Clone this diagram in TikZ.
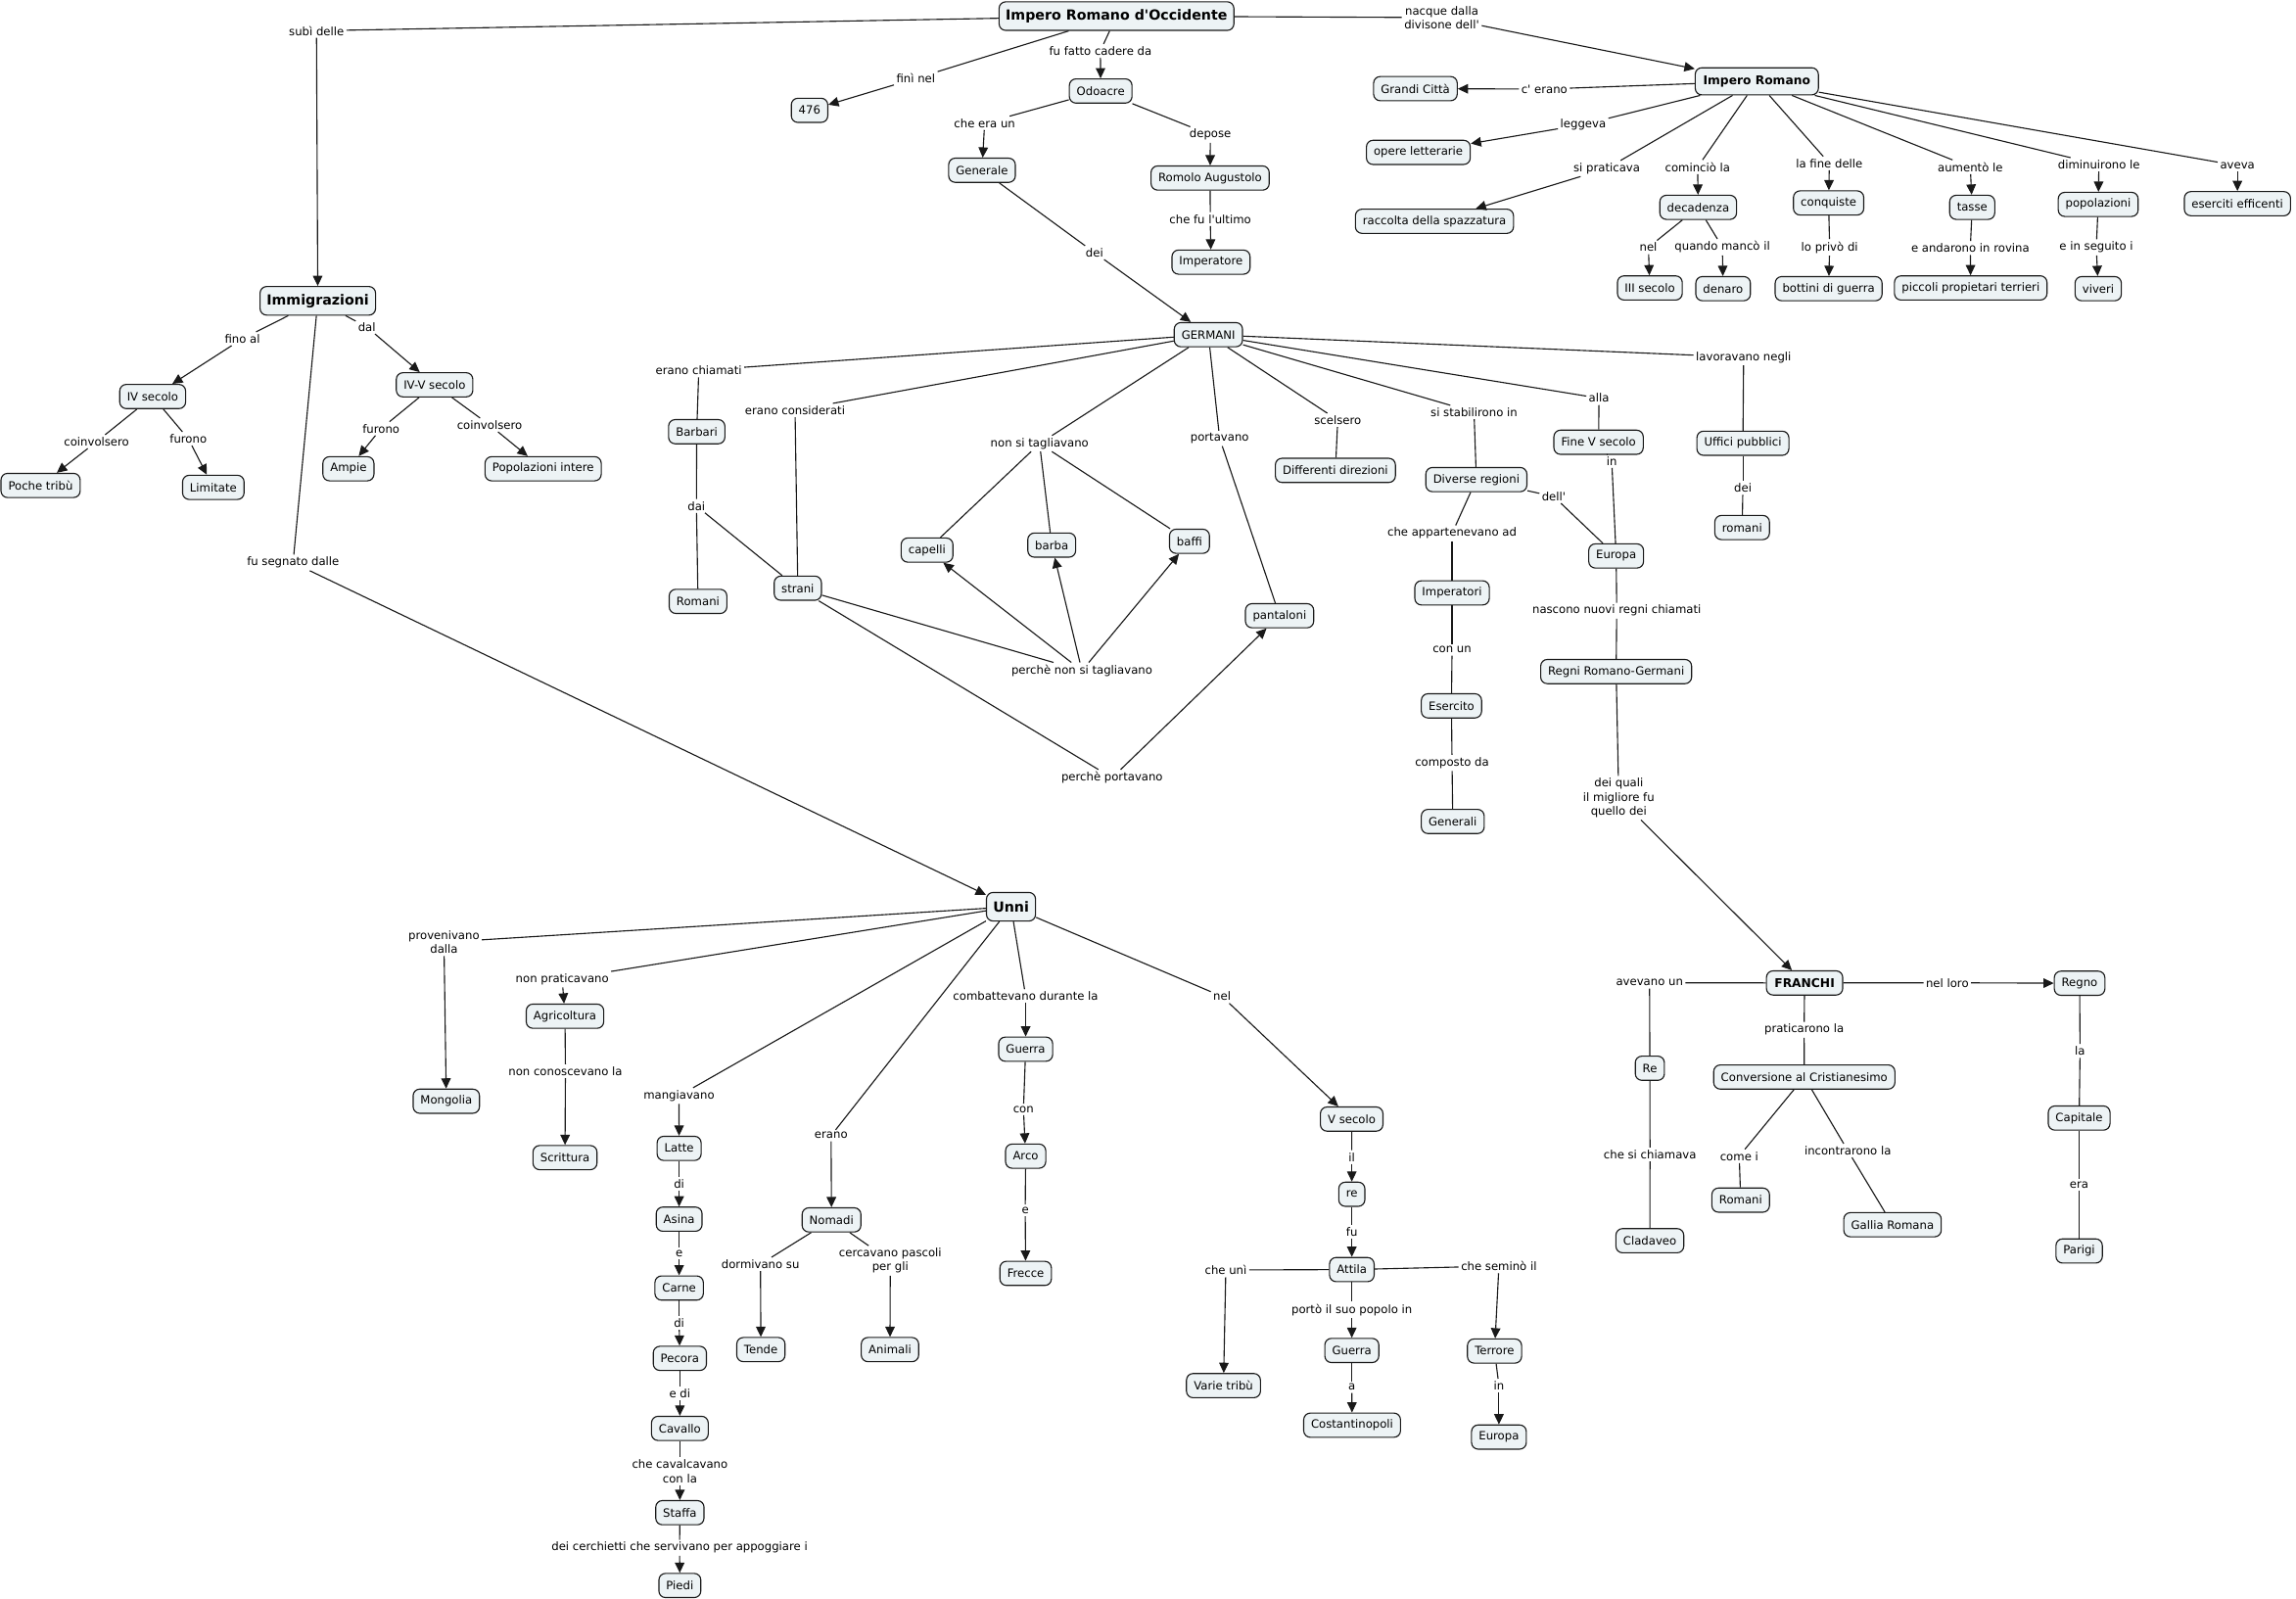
\documentclass[tikz,border=0pt]{standalone}
\usepackage{fontspec}
\setmainfont{DejaVu Sans}
\usetikzlibrary{arrows.meta}
\definecolor{cfill}{RGB}{237,243,245}
\definecolor{cline}{RGB}{25,25,25}
\newcommand\cfont{\fontsize{7.8}{9.6}\selectfont}
\newcommand\bigfont{\fontsize{9.5}{11}\selectfont\bfseries}
\newcommand\midfont{\fontsize{8.2}{10}\selectfont\bfseries}
\newcommand\apo{\textquotesingle}
\newcommand\cmlink[3]{\draw[link] (#1) -- (#2); \draw[arr] (#2) -- (#3);}
\newcommand\cmplain[3]{\draw[link] (#1) -- (#2); \draw[link] (#2) -- (#3);}
\tikzset{
  concept/.style={draw=cline, fill=cfill, rounded corners=4.5pt, line width=0.75pt,
    inner xsep=5pt, inner ysep=2pt, minimum height=16.5pt, font=\cfont, text=black},
  bigc/.style={concept, font=\bigfont, minimum height=19.5pt, inner xsep=4.5pt},
  midc/.style={concept, font=\midfont, inner xsep=5.5pt},
  lp/.style={inner sep=1.5pt, font=\cfont, align=center, text=black},
  link/.style={draw=cline, line width=0.75pt},
  arr/.style={link, -{Triangle[length=7pt,width=6.5pt]}},
}
\begin{document}
\begin{tikzpicture}[x=1pt,y=-1pt]
\useasboundingbox (0,0) rectangle (1567,1091.2);
% ---------- concepts ----------
\node[bigc] (iro) at (762,11) {Impero Romano d\apo Occidente};
\node[midc, minimum height=18.5pt] (ir) at (1199,55.5) {Impero Romano};
\node[concept] (grandi) at (966,60.5) {Grandi Città};
\node[concept] (opere) at (968,104) {opere letterarie};
\node[concept] (raccolta) at (979,151) {raccolta della spazzatura};
\node[concept] (decad) at (1159,141.5) {decadenza};
\node[concept] (conq) at (1248,138.5) {conquiste};
\node[concept] (tasse) at (1346,141.5) {tasse};
\node[concept] (popol) at (1432,139.5) {popolazioni};
\node[concept] (eserc) at (1527,139) {eserciti efficenti};
\node[concept] (iii) at (1126,196.5) {III secolo};
\node[concept] (denaro) at (1176,197) {denaro};
\node[concept] (bottini) at (1248,197) {bottini di guerra};
\node[concept] (piccoli) at (1345,196.5) {piccoli propietari terrieri};
\node[concept] (viveri) at (1432,197) {viveri};
\node[concept] (n476) at (552.5,75.3) {476};
\node[concept] (odo) at (751.2,62.1) {Odoacre};
\node[concept] (gen) at (670.2,116.2) {Generale};
\node[concept] (romolo) at (825.9,121.5) {Romolo Augustolo};
\node[concept] (imperatore) at (826.5,178.9) {Imperatore};
\node[concept] (germ) at (824.7,228.4) {GERMANI};
\node[bigc] (immig) at (216.9,205.3) {Immigrazioni};
\node[concept] (ivs) at (104.2,270.6) {IV secolo};
\node[concept] (ivvs) at (296.6,262.6) {IV-V secolo};
\node[concept] (poche) at (27.7,331.3) {Poche tribù};
\node[concept] (limitate) at (145.6,332.6) {Limitate};
\node[concept] (ampie) at (237.8,319.9) {Ampie};
\node[concept] (popint) at (370.7,319.9) {Popolazioni intere};
\node[concept] (barbari) at (475.5,294.6) {Barbari};
\node[concept] (romaniG) at (476.4,410.4) {Romani};
\node[concept] (strani) at (544.5,401.4) {strani};
\node[concept] (capelli) at (632.7,375.4) {capelli};
\node[concept] (barba) at (717.8,372) {barba};
\node[concept] (baffi) at (811.8,369.4) {baffi};
\node[concept] (pantaloni) at (873.3,420.2) {pantaloni};
\node[concept] (differenti) at (911.4,321) {Differenti direzioni};
\node[concept] (diverse) at (1007.6,327.3) {Diverse regioni};
\node[concept] (finev) at (1091,301.8) {Fine V secolo};
\node[concept] (uffici) at (1189.5,302.5) {Uffici pubblici};
\node[concept] (romaniU) at (1189,360) {romani};
\node[concept] (europaG) at (1103,379.4) {Europa};
\node[concept] (imperatori) at (991,404.6) {Imperatori};
\node[concept] (regni) at (1103,458.3) {Regni Romano-Germani};
\node[concept] (esercito) at (990.6,481.7) {Esercito};
\node[concept] (generali) at (991.5,560.6) {Generali};
\node[bigc] (unni) at (690,618.8) {Unni};
\node[concept] (mongolia) at (304.6,751.5) {Mongolia};
\node[concept] (agri) at (385.6,693.5) {Agricoltura};
\node[concept] (scrittura) at (385.6,790) {Scrittura};
\node[concept] (latte) at (463.5,783.7) {Latte};
\node[concept] (asina) at (463.5,832) {Asina};
\node[concept] (carne) at (463.5,879) {Carne};
\node[concept] (pecora) at (464,927) {Pecora};
\node[concept] (cavallo) at (464,974.8) {Cavallo};
\node[concept] (staffa) at (464,1032.3) {Staffa};
\node[concept] (piedi) at (464,1082) {Piedi};
\node[concept] (nomadi) at (567.5,832.5) {Nomadi};
\node[concept] (tende) at (519.3,921) {Tende};
\node[concept] (animali) at (607.4,921) {Animali};
\node[concept] (guerraU) at (700,716) {Guerra};
\node[concept] (arco) at (700,789) {Arco};
\node[concept] (frecce) at (700,869) {Frecce};
\node[concept] (vsec) at (922.5,763.7) {V secolo};
\node[concept] (re) at (922.6,815) {re};
\node[concept] (attila) at (922.6,866.4) {Attila};
\node[concept] (varie) at (835,945.6) {Varie tribù};
\node[concept] (guerraA) at (922.6,921.6) {Guerra};
\node[concept] (costant) at (922.8,972.6) {Costantinopoli};
\node[concept] (terrore) at (1020,922) {Terrore};
\node[concept] (europaA) at (1023,980.7) {Europa};
\node[midc] (franchi) at (1231.6,670.8) {FRANCHI};
\node[concept] (regno) at (1419.3,671) {Regno};
\node[concept] (reF) at (1126,729) {Re};
\node[concept] (conv) at (1231.4,735) {Conversione al Cristianesimo};
\node[concept] (capitale) at (1419,763) {Capitale};
\node[concept] (cladaveo) at (1126,846.7) {Cladaveo};
\node[concept] (romaniF) at (1188,819) {Romani};
\node[concept] (gallia) at (1291.6,835.8) {Gallia Romana};
\node[concept] (parigi) at (1419,853.7) {Parigi};
% ---------- linking phrases ----------
\node[lp] (Lsubi) at (216,21) {subì delle};
\node[lp] (Lnacque) at (984,12) {nacque dalla\\divisone dell\apo};
\node[lp] (Lfini) at (625,53.5) {finì nel};
\node[lp] (Lfatto) at (751,34.7) {fu fatto cadere da};
\node[lp] (Lchera) at (672,84) {che era un};
\node[lp] (Ldepose) at (826,92) {depose};
\node[lp] (Lultimo) at (826,149.5) {che fu l\apo ultimo};
\node[lp] (Ldei) at (747,172.4) {dei};
\node[lp] (Lcerano) at (1054,60.8) {c\apo\ erano};
\node[lp] (Lleggeva) at (1080.5,85) {leggeva};
\node[lp] (Lsiprat) at (1096.6,115) {si praticava};
\node[lp] (Lcomin) at (1158.6,114) {cominciò la};
\node[lp] (Llafine) at (1248.5,111.4) {la fine delle};
\node[lp] (Laument) at (1344.7,114) {aumentò le};
\node[lp] (Ldiminu) at (1432.5,112.3) {diminuirono le};
\node[lp] (Laveva) at (1527,113) {aveva};
\node[lp] (Lnel) at (1125,168.8) {nel};
\node[lp] (Lquando) at (1175.5,168.7) {quando mancò il};
\node[lp] (Lloprivo) at (1248.7,168.8) {lo privò di};
\node[lp] (Landar) at (1344.7,169.2) {e andarono in rovina};
\node[lp] (Leinseg) at (1430.7,168.8) {e in seguito i};
\node[lp] (Lfino) at (165.4,231.2) {fino al};
\node[lp] (Ldal) at (250.4,223.2) {dal};
\node[lp] (Lcoinva) at (65.9,301.4) {coinvolsero};
\node[lp] (Lfura) at (128.5,299.4) {furono};
\node[lp] (Lfurb) at (260.1,292.5) {furono};
\node[lp] (Lcoinvb) at (334.1,290) {coinvolsero};
\node[lp] (Lsegnato) at (200,384) {fu segnato dalle};
\node[lp] (Lchiam) at (476.9,252.8) {erano chiamati};
\node[lp] (Lconsid) at (542.6,280) {erano considerati};
\node[lp] (Ldai) at (475.3,345.3) {dai};
\node[lp] (Lnonsi) at (709.5,302.7) {non si tagliavano};
\node[lp] (Lportav) at (832.4,299.2) {portavano};
\node[lp] (Lperche) at (738.4,457.7) {perchè non si tagliavano};
\node[lp] (Lperport) at (759,530.8) {perchè portavano};
\node[lp] (Lscelsero) at (913,286.7) {scelsero};
\node[lp] (Lstabil) at (1006,281.3) {si stabilirono in};
\node[lp] (Lalla) at (1091.3,271.7) {alla};
\node[lp] (Llavor) at (1190,243.8) {lavoravano negli};
\node[lp] (Ldeiu) at (1189.5,333) {dei};
\node[lp] (Lin) at (1100,314.6) {in};
\node[lp] (Ldell) at (1060.4,338.8) {dell\apo};
\node[lp] (Lappart) at (991,364) {che appartenevano ad};
\node[lp] (Lconun) at (991,443.5) {con un};
\node[lp] (Lcompost) at (991,520.6) {composto da};
\node[lp] (Lnascono) at (1103.4,416.8) {nascono nuovi regni chiamati};
\node[lp] (Ldeiquali) at (1104.8,544.5) {dei quali\\il migliore fu\\quello dei};
\node[lp] (Lavevano) at (1125.8,670.7) {avevano un};
\node[lp] (Lnelloro) at (1329,670.7) {nel loro};
\node[lp] (Lpratic) at (1231.3,702.8) {praticarono la};
\node[lp] (Lsichiam) at (1126.1,787.8) {che si chiamava};
\node[lp] (Lcomei) at (1187,789) {come i};
\node[lp] (Lincontr) at (1261.1,785.2) {incontrarono la};
\node[lp] (Lla) at (1419.6,717.2) {la};
\node[lp] (Lera) at (1419,808.6) {era};
\node[lp] (Lproven) at (303,643) {provenivano\\dalla};
\node[lp] (Lnonprat) at (383.7,668.3) {non praticavano};
\node[lp] (Lnoncon) at (385.9,731) {non conoscevano la};
\node[lp] (Lmangiav) at (463.4,747.8) {mangiavano};
\node[lp] (Ldia) at (463.5,808) {di};
\node[lp] (Lea) at (463.5,855.4) {e};
\node[lp] (Ldib) at (463.5,902.8) {di};
\node[lp] (Ledi) at (464,951) {e di};
\node[lp] (Lcavalc) at (464,1004) {che cavalcavano\\con la};
\node[lp] (Lcerch) at (463.8,1056.3) {dei cerchietti che servivano per appoggiare i};
\node[lp] (Lerano) at (567.2,775) {erano};
\node[lp] (Ldormiv) at (519,862.7) {dormivano su};
\node[lp] (Lcercav) at (607.6,860.4) {cercavano pascoli\\per gli};
\node[lp] (Lcombatt) at (700,679.8) {combattevano durante la};
\node[lp] (Lcon) at (698.5,757.1) {con};
\node[lp] (Leb) at (699.7,826) {e};
\node[lp] (Lnelu) at (834,680) {nel};
\node[lp] (Lil) at (922.6,789.6) {il};
\node[lp] (Lfu) at (922.6,840.4) {fu};
\node[lp] (Lcheuni) at (836.6,866.7) {che unì};
\node[lp] (Lporto) at (922.6,893.9) {portò il suo popolo in};
\node[lp] (La) at (922.6,946.7) {a};
\node[lp] (Lsemino) at (1023,864) {che seminò il};
\node[lp] (Linb) at (1023,945.5) {in};
% ---------- connections ----------
\cmlink{iro}{Lsubi}{immig}
\cmlink{iro}{Lnacque}{ir}
\cmlink{iro}{Lfini}{n476}
\cmlink{iro}{Lfatto}{odo}
\cmlink{odo}{Lchera}{gen}
\cmlink{odo}{Ldepose}{romolo}
\cmlink{romolo}{Lultimo}{imperatore}
\cmlink{gen}{Ldei}{germ}
\cmlink{ir}{Lcerano}{grandi}
\cmlink{ir}{Lleggeva}{opere}
\cmlink{ir}{Lsiprat}{raccolta}
\cmlink{ir}{Lcomin}{decad}
\cmlink{ir}{Llafine}{conq}
\cmlink{ir}{Laument}{tasse}
\cmlink{ir}{Ldiminu}{popol}
\cmlink{ir}{Laveva}{eserc}
\cmlink{decad}{Lnel}{iii}
\cmlink{decad}{Lquando}{denaro}
\cmlink{conq}{Lloprivo}{bottini}
\cmlink{tasse}{Landar}{piccoli}
\cmlink{popol}{Leinseg}{viveri}
\cmlink{immig}{Lfino}{ivs}
\cmlink{immig}{Ldal}{ivvs}
\cmlink{ivs}{Lcoinva}{poche}
\cmlink{ivs}{Lfura}{limitate}
\cmlink{ivvs}{Lfurb}{ampie}
\cmlink{ivvs}{Lcoinvb}{popint}
\cmlink{immig}{Lsegnato}{unni}
\cmplain{germ}{Lchiam}{barbari}
\cmplain{barbari}{Ldai}{romaniG}
\draw[link] (Ldai) -- (strani);
\cmplain{germ}{Lconsid}{strani}
\cmplain{germ}{Lnonsi}{capelli}
\draw[link] (Lnonsi) -- (barba);
\draw[link] (Lnonsi) -- (baffi);
\cmlink{strani}{Lperche}{capelli}
\draw[arr] (Lperche) -- (barba);
\draw[arr] (Lperche) -- (baffi);
\cmlink{strani}{Lperport}{pantaloni}
\cmplain{germ}{Lportav}{pantaloni}
\cmplain{germ}{Lscelsero}{differenti}
\cmplain{germ}{Lstabil}{diverse}
\cmplain{germ}{Lalla}{finev}
\cmplain{germ}{Llavor}{uffici}
\cmplain{uffici}{Ldeiu}{romaniU}
\cmplain{finev}{Lin}{europaG}
\cmplain{diverse}{Ldell}{europaG}
\cmplain{diverse}{Lappart}{imperatori}
\cmplain{imperatori}{Lconun}{esercito}
\cmplain{esercito}{Lcompost}{generali}
\cmplain{europaG}{Lnascono}{regni}
\cmlink{regni}{Ldeiquali}{franchi}
\cmplain{franchi}{Lavevano}{reF}
\cmplain{reF}{Lsichiam}{cladaveo}
\cmplain{franchi}{Lpratic}{conv}
\cmplain{conv}{Lcomei}{romaniF}
\cmplain{conv}{Lincontr}{gallia}
\cmlink{franchi}{Lnelloro}{regno}
\cmplain{regno}{Lla}{capitale}
\cmplain{capitale}{Lera}{parigi}
\cmlink{unni}{Lproven}{mongolia}
\cmlink{unni}{Lnonprat}{agri}
\cmlink{agri}{Lnoncon}{scrittura}
\cmlink{unni}{Lmangiav}{latte}
\cmlink{latte}{Ldia}{asina}
\cmlink{asina}{Lea}{carne}
\cmlink{carne}{Ldib}{pecora}
\cmlink{pecora}{Ledi}{cavallo}
\cmlink{cavallo}{Lcavalc}{staffa}
\cmlink{staffa}{Lcerch}{piedi}
\cmlink{unni}{Lerano}{nomadi}
\cmlink{nomadi}{Ldormiv}{tende}
\cmlink{nomadi}{Lcercav}{animali}
\cmlink{unni}{Lcombatt}{guerraU}
\cmlink{guerraU}{Lcon}{arco}
\cmlink{arco}{Leb}{frecce}
\cmlink{unni}{Lnelu}{vsec}
\cmlink{vsec}{Lil}{re}
\cmlink{re}{Lfu}{attila}
\cmlink{attila}{Lcheuni}{varie}
\cmlink{attila}{Lporto}{guerraA}
\cmlink{guerraA}{La}{costant}
\cmlink{attila}{Lsemino}{terrore}
\cmlink{terrore}{Linb}{europaA}
\end{tikzpicture}
\end{document}
